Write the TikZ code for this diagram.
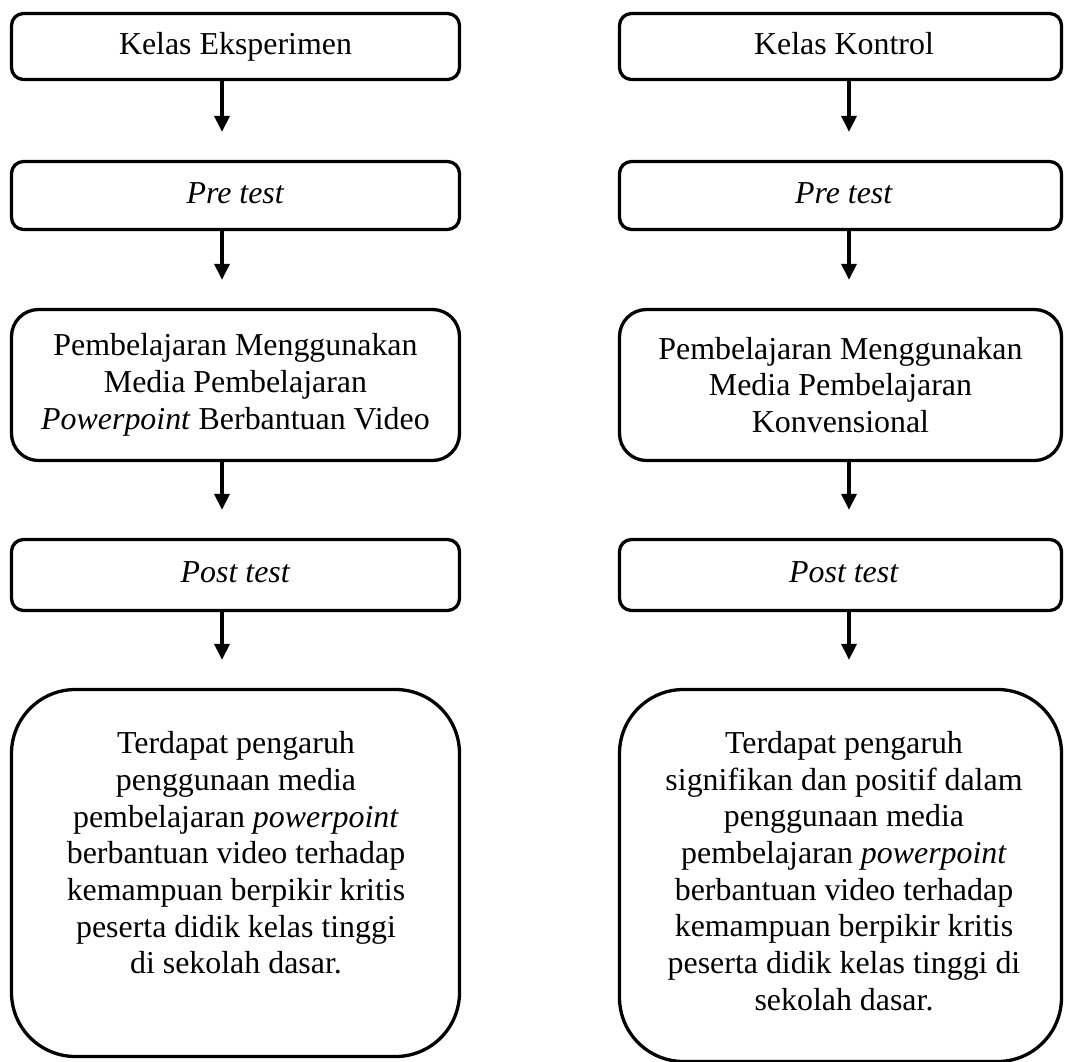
\documentclass[tikz,border=0pt]{standalone}
\usepackage{fontspec}
\setmainfont{Liberation Serif}
\usetikzlibrary{arrows.meta}
\begin{document}
\begin{tikzpicture}[x=1pt,y=-1pt,
  txtfont/.style={font=\fontsize{31.9}{36.7}\selectfont},
  flowbox/.style={draw, line width=3.3pt, align=center, inner sep=0pt, txtfont},
  smallbox/.style={flowbox, rounded corners=12pt, text height=22pt, text depth=7pt},
  midbox/.style={flowbox, rounded corners=27pt},
  bigbox/.style={flowbox, rounded corners=64pt},
  plaintext/.style={align=center, inner sep=0pt, txtfont},
  flowarrow/.style={line width=3.3pt, -{Triangle[width=15pt,length=16pt]}, shorten >=28pt}]
\useasboundingbox (0,0) rectangle (1065,1061);
\fill[white] (0,0) rectangle (1065,1061);
% axes for arrows
\coordinate (axL) at (222,0);
\coordinate (axR) at (849,0);
% left column
\node[smallbox, minimum width=448pt, minimum height=66pt] (L1) at (235.5,46.5) {Kelas Eksperimen};
\node[smallbox, minimum width=448pt, minimum height=68pt] (L2) at (235.5,195.5) {\textit{Pre test}};
\node[midbox, minimum width=448pt, minimum height=151pt] (L3) at (235.5,385) {Pembelajaran Menggunakan\\Media Pembelajaran\\\textit{Powerpoint} Berbantuan Video};
\node[smallbox, minimum width=448pt, minimum height=71pt] (L4) at (235.5,575) {\textit{Post test}};
\node[bigbox, minimum width=448pt, minimum height=367pt] (L5) at (235.5,873) {};
\node[plaintext] (L5t) at (236,853) {Terdapat pengaruh\\penggunaan media\\pembelajaran \textit{powerpoint}\\berbantuan video terhadap\\kemampuan berpikir kritis\\peserta didik kelas tinggi\\di sekolah dasar.};
% right column
\node[smallbox, minimum width=442pt, minimum height=66pt] (R1) at (840.5,46.5) {\hspace*{7pt}Kelas Kontrol};
\node[smallbox, minimum width=442pt, minimum height=68pt] (R2) at (840.5,195.5) {\hspace*{7pt}\textit{Pre test}};
\node[midbox, minimum width=442pt, minimum height=151pt] (R3) at (840.5,385) {Pembelajaran Menggunakan\\Media Pembelajaran\\Konvensional};
\node[smallbox, minimum width=442pt, minimum height=71pt] (R4) at (840.5,575) {\hspace*{7pt}\textit{Post test}};
\node[bigbox, minimum width=442pt, minimum height=372pt] (R5) at (840.5,875.5) {};
\node[plaintext] (R5t) at (844,871) {Terdapat pengaruh\\signifikan dan positif dalam\\penggunaan media\\pembelajaran \textit{powerpoint}\\berbantuan video terhadap\\kemampuan berpikir kritis\\peserta didik kelas tinggi di\\sekolah dasar.};
% arrows
\draw[flowarrow] (L1.south -| axL) -- (L2.north -| axL);
\draw[flowarrow] (L2.south -| axL) -- (L3.north -| axL);
\draw[flowarrow] (L3.south -| axL) -- (L4.north -| axL);
\draw[flowarrow] (L4.south -| axL) -- (L5.north -| axL);
\draw[flowarrow] (R1.south -| axR) -- (R2.north -| axR);
\draw[flowarrow] (R2.south -| axR) -- (R3.north -| axR);
\draw[flowarrow] (R3.south -| axR) -- (R4.north -| axR);
\draw[flowarrow] (R4.south -| axR) -- (R5.north -| axR);
\end{tikzpicture}
\end{document}
